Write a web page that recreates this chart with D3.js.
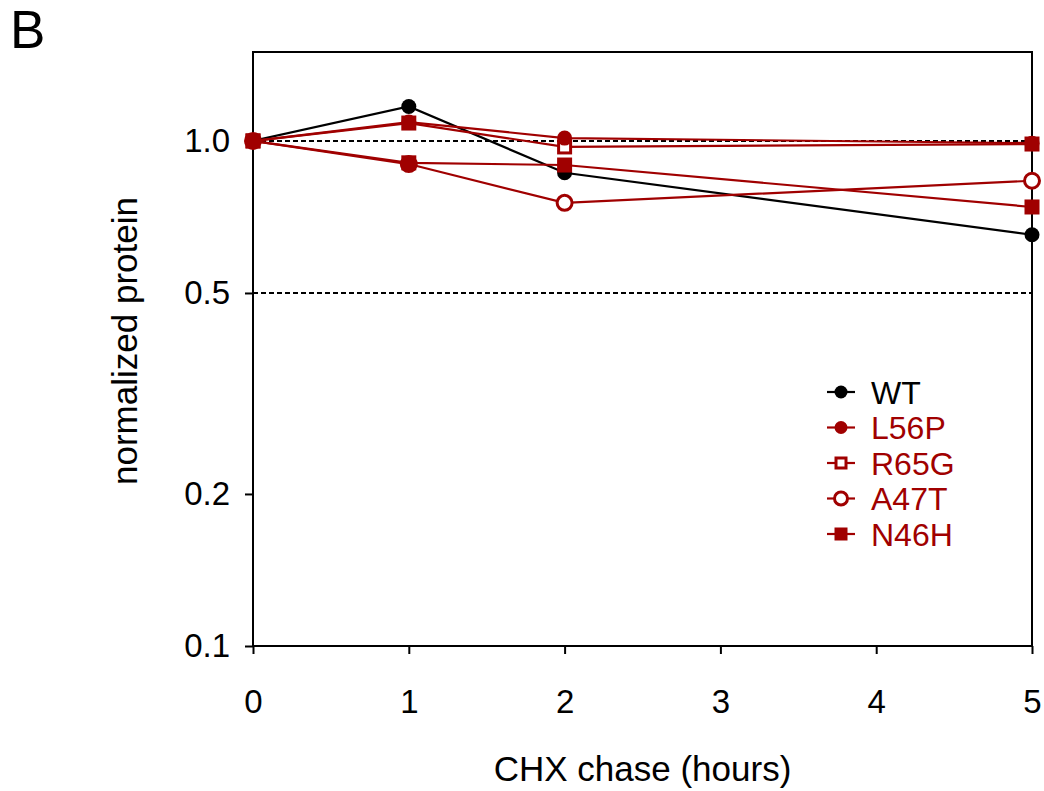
<!DOCTYPE html>
<html>
<head>
<meta charset="utf-8">
<script src="https://cdn.jsdelivr.net/npm/d3@7"></script>
<style>
  body { margin: 0; background: #fff; }
  svg { display: block; font-family: "Liberation Sans", Arial, sans-serif; }
</style>
</head>
<body>
<svg id="chart" width="1044" height="791"></svg>
<script>
// chase time points (hours)
const hours = [0, 1, 2, 5];

// normalized protein per construct
const wt   = [1.0, 1.17, 0.865, 0.652];
const l56p = [1.0, 1.09, 1.013, 0.99];
const r65g = [1.0, 1.085, 0.973, 0.986];
const a47t = [1.0, 0.9, 0.754, 0.834];
const n46h = [1.0, 0.905, 0.896, 0.74];

const seriesNames = ["WT", "L56P", "R65G", "A47T", "N46H"];
const yTicks = [0.1, 0.2, 0.5, 1.0];
const xTicks = [0, 1, 2, 3, 4, 5];
const refLines = [1.0, 0.5];

const red = "#a00000";
const series = [
  { name: "WT",   values: wt,   color: "#000", shape: "circle", filled: true },
  { name: "L56P", values: l56p, color: red,    shape: "circle", filled: true },
  { name: "R65G", values: r65g, color: red,    shape: "square", filled: false },
  { name: "A47T", values: a47t, color: red,    shape: "circle", filled: false },
  { name: "N46H", values: n46h, color: red,    shape: "square", filled: true }
];
// R65G goes under L56P, the way the original stacks them
const drawOrder = [0, 2, 1, 3, 4];

const svg = d3.select("#chart"),
    margin = {top: 52, right: 12, bottom: 145, left: 253},
    width = +svg.attr("width") - margin.left - margin.right,
    height = +svg.attr("height") - margin.top - margin.bottom,
    g = svg.append("g").attr("transform", "translate(" + margin.left + "," + margin.top + ")");

const x = d3.scaleLinear().domain([0, 5]).range([0, width]);
const y = d3.scaleLog().domain([0.1, 1.5]).range([height, 0]);

// panel letter
svg.append("text")
    .attr("x", 10)
    .attr("y", 48)
    .attr("font-size", 53)
    .attr("fill", "#000")
    .text("B");

// dashed reference lines
g.selectAll(".ref")
  .data(refLines)
  .enter().append("line")
    .attr("x1", 0)
    .attr("x2", width)
    .attr("y1", d => y(d))
    .attr("y2", d => y(d))
    .attr("stroke", "#000")
    .attr("stroke-width", 2)
    .attr("stroke-dasharray", "5,3");

// frame
g.append("rect")
    .attr("width", width)
    .attr("height", height)
    .attr("fill", "none")
    .attr("stroke", "#000")
    .attr("stroke-width", 2);

const xAxis = g.append("g")
    .attr("transform", "translate(0," + height + ")")
    .call(d3.axisBottom(x).tickValues(xTicks).tickFormat(d3.format("d")).tickSize(8).tickPadding(36));
xAxis.select(".domain").remove();

const yAxis = g.append("g")
    .call(d3.axisLeft(y).tickValues(yTicks).tickFormat(d3.format(".1f")).tickSize(8).tickPadding(15));
yAxis.select(".domain").remove();

[xAxis, yAxis].forEach(ax => {
  ax.selectAll(".tick line").attr("stroke", "#000").attr("stroke-width", 2);
  ax.selectAll(".tick text").attr("fill", "#000").attr("font-size", 33)
    .attr("font-family", "'Liberation Sans', Arial, sans-serif");
});

// axis titles
svg.append("text")
    .attr("x", margin.left + width / 2)
    .attr("y", 781)
    .attr("text-anchor", "middle")
    .attr("font-size", 35)
    .attr("fill", "#000")
    .text("CHX chase (hours)");

svg.append("text")
    .attr("transform", "translate(137,341) rotate(-90)")
    .attr("text-anchor", "middle")
    .attr("font-size", 35)
    .attr("fill", "#000")
    .text("normalized protein");

const line = d3.line()
    .x(d => x(d.h))
    .y(d => y(d.v));

function drawMarker(sel, s, cx, cy, r, side) {
  const fill = s.filled ? s.color : "#fff";
  if (s.shape === "circle") {
    sel.append("circle")
        .attr("cx", cx).attr("cy", cy).attr("r", r)
        .attr("fill", fill)
        .attr("stroke", s.color)
        .attr("stroke-width", s.filled ? 0 : 3);
  } else {
    const sz = s.filled ? side : side - 3;
    sel.append("rect")
        .attr("x", cx - sz / 2).attr("y", cy - sz / 2)
        .attr("width", sz).attr("height", sz)
        .attr("fill", fill)
        .attr("stroke", s.color)
        .attr("stroke-width", s.filled ? 0 : 3);
  }
}

drawOrder.forEach(k => {
  const s = series[k];
  const pts = hours.map((h, i) => ({ h: h, v: s.values[i] }));
  const sg = g.append("g");
  sg.append("path")
      .datum(pts)
      .attr("fill", "none")
      .attr("stroke", s.color)
      .attr("stroke-width", 2.2)
      .attr("d", line);
  pts.forEach(p => drawMarker(sg, s, x(p.h), y(p.v), 7.5, 15));
});

// legend
const legend = svg.append("g").attr("transform", "translate(827,392)");
series.forEach((s, i) => {
  const row = legend.append("g").attr("transform", "translate(0," + (i * 35.5) + ")");
  row.append("line")
      .attr("x1", 0).attr("x2", 28)
      .attr("stroke", s.color)
      .attr("stroke-width", 2.2);
  drawMarker(row, s, 14, 0, 6.5, 13);
  row.append("text")
      .attr("x", 44)
      .attr("y", 0)
      .attr("dy", "0.36em")
      .attr("font-size", 32)
      .attr("fill", s.color)
      .text(seriesNames[i]);
});
</script>
</body>
</html>
